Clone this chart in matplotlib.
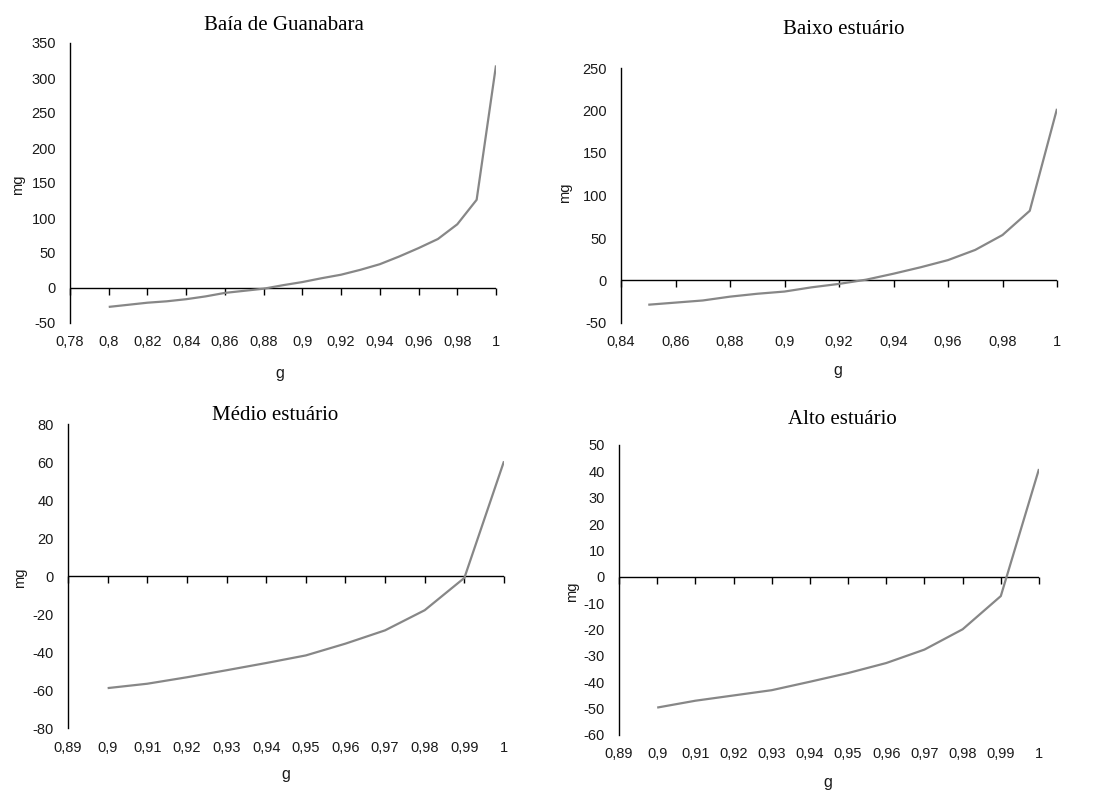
import matplotlib
matplotlib.use("Agg")
import matplotlib.pyplot as plt
from matplotlib.ticker import FuncFormatter, MultipleLocator
from matplotlib.markers import TICKDOWN
import numpy as np

W, H = 1097, 790

# ---- data ----
titles = ["Baía de Guanabara", "Baixo estuário", "Médio estuário", "Alto estuário"]

g_baia = [0.80, 0.81, 0.82, 0.83, 0.84, 0.85, 0.86, 0.87, 0.88, 0.89, 0.90,
          0.91, 0.92, 0.93, 0.94, 0.95, 0.96, 0.97, 0.98, 0.99, 1.00]
mg_baia = [-27, -24, -21, -19, -16, -12, -7, -4, -1, 4, 8.5,
           14, 19, 26, 34, 45, 57, 70, 91, 126, 318]

g_baixo = [0.85, 0.86, 0.87, 0.88, 0.89, 0.90, 0.91, 0.92, 0.93, 0.94, 0.95,
           0.96, 0.97, 0.98, 0.99, 1.00]
mg_baixo = [-28.5, -26, -23.5, -19, -15.6, -13, -8, -4, 1, 8, 15.6,
            24, 36, 53.5, 82, 202]

g_medio = [0.90, 0.91, 0.92, 0.93, 0.94, 0.95, 0.96, 0.97, 0.98, 0.99, 1.00]
mg_medio = [-59, -56.7, -53.3, -49.6, -45.8, -41.8, -35.6, -28.6, -18, -1, 60.4]

g_alto = [0.90, 0.91, 0.92, 0.93, 0.94, 0.95, 0.96, 0.97, 0.98, 0.99, 1.00]
mg_alto = [-49.6, -47, -45, -43, -39.8, -36.5, -32.7, -27.6, -19.9, -7.3, 40.9]

xlims = [(0.78, 1.0), (0.84, 1.0), (0.89, 1.0), (0.89, 1.0)]
xsteps = [0.02, 0.02, 0.01, 0.01]
ylims = [(-50, 350), (-50, 250), (-80, 80), (-60, 50)]
ysteps = [50, 50, 20, 10]

# pixel boxes: left, right, top, bottom
boxes = [(70, 496, 43, 323), (621, 1057, 68, 323), (68, 504, 424, 728), (619, 1039, 445, 735)]
title_pos = [(284, 25), (844, 29), (275, 416), (842, 419)]
ylab_pos = [(18, 185), (565, 193), (20, 578), (572, 592)]
xlab_pos = [(280, 373), (838, 370), (286, 775), (828, 783)]

series = [(g_baia, mg_baia), (g_baixo, mg_baixo), (g_medio, mg_medio), (g_alto, mg_alto)]

fig = plt.figure(figsize=(W / 100, H / 100), dpi=100)

tick_font = "Liberation Sans"
title_font = "Liberation Serif"
text_col = "#1a1a1a"


def fmt(v, pos):
    s = f"{round(v, 4):g}"
    return s.replace(".", ",")


for i in range(4):
    l, r, t, b = boxes[i]
    ax = fig.add_axes([l / W, 1 - b / H, (r - l) / W, (b - t) / H])
    xs, ys = series[i]
    ax.set_xlim(*xlims[i])
    ax.set_ylim(*ylims[i])
    ax.xaxis.set_major_locator(MultipleLocator(xsteps[i]))
    ax.yaxis.set_major_locator(MultipleLocator(ysteps[i]))
    ax.xaxis.set_major_formatter(FuncFormatter(fmt))
    ax.yaxis.set_major_formatter(FuncFormatter(fmt))
    for s in ["top", "right", "bottom"]:
        ax.spines[s].set_visible(False)
    ax.spines["left"].set_color("black")
    ax.spines["left"].set_linewidth(1.0)
    ax.tick_params(axis="x", length=0, pad=9, labelsize=10.5, labelcolor=text_col)
    ax.tick_params(axis="y", length=0, pad=10, labelsize=10.5, labelcolor=text_col)
    for lab in ax.get_xticklabels() + ax.get_yticklabels():
        lab.set_fontfamily(tick_font)
    # zero line with tick marks
    ax.axhline(0, color="black", lw=1.0, zorder=2)
    xt = [v for v in ax.get_xticks() if xlims[i][0] - 1e-9 <= v <= xlims[i][1] + 1e-9]
    ax.plot(xt, [0] * len(xt), linestyle="none", marker=TICKDOWN, markersize=5,
            markeredgewidth=1.0, color="black", clip_on=False, zorder=2)
    ax.plot(xs, ys, color="#878787", lw=1.6, zorder=3, solid_capstyle="butt")
    # labels
    tx, ty = title_pos[i]
    fig.text(tx / W, 1 - ty / H, titles[i], ha="center", va="center",
             fontsize=15, family=title_font, color="black")
    ax.set_ylabel("mg", fontsize=10.5, family=tick_font, color=text_col)
    lx, ly = ylab_pos[i]
    ax.yaxis.set_label_coords(lx / W, 1 - ly / H, transform=fig.transFigure)
    ax.set_xlabel("g", fontsize=11.5, family=tick_font, color=text_col)
    gx, gy = xlab_pos[i]
    ax.xaxis.set_label_coords(gx / W, 1 - gy / H, transform=fig.transFigure)
    ax.xaxis.label.set_va("center")
    ax.yaxis.label.set_va("center")

fig.savefig("out.png", dpi=100, facecolor="white")
